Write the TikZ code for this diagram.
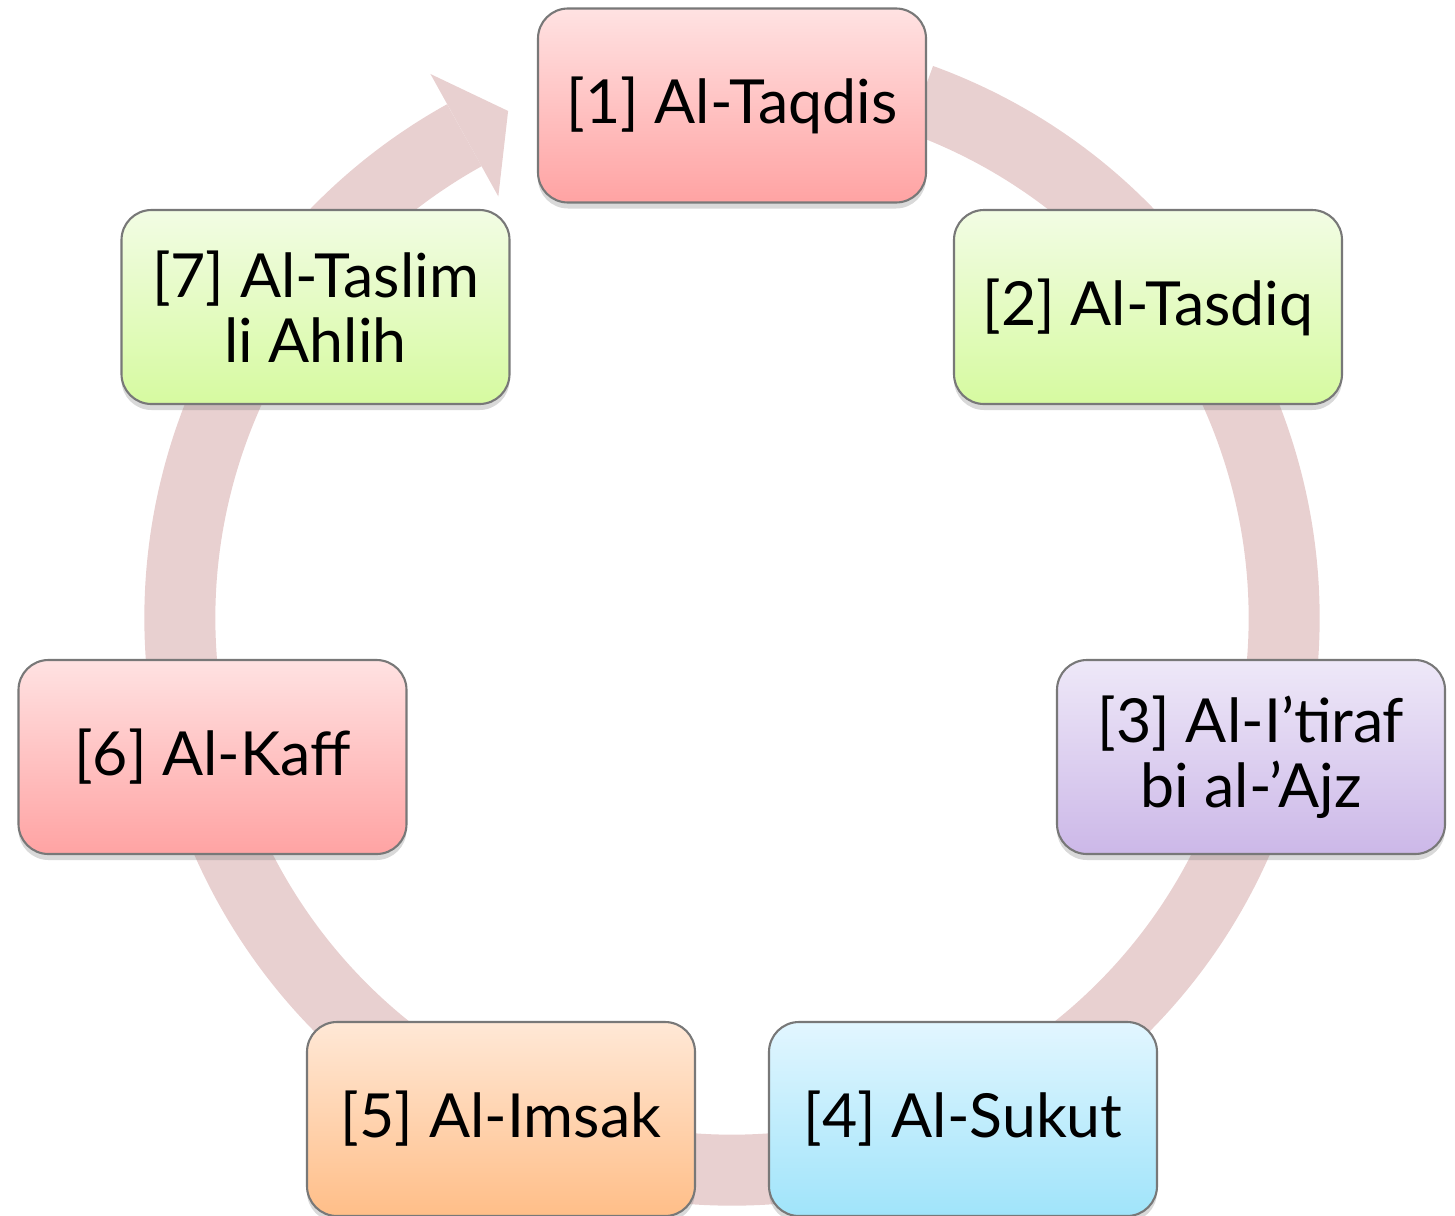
\documentclass[tikz,border=0pt]{standalone}
\usepackage{fontspec}
\setmainfont{Lato}
\usetikzlibrary{shadows,calc}

\definecolor{ringpink}{RGB}{232,208,208}
\definecolor{boxline}{RGB}{120,120,120}

\tikzset{
  stage/.style={draw=boxline, line width=0.6pt, rounded corners=0.3cm,
    minimum width=3.88cm, minimum height=1.94cm, align=center,
    font=\fontsize{17.3}{18.5}\selectfont,
    drop shadow={opacity=0.3, shadow xshift=0cm, shadow yshift=-0.06cm}},
  pinkstage/.style={stage, top color={rgb,255:red,255;green,226;blue,226}, bottom color={rgb,255:red,255;green,163;blue,163}},
  greenstage/.style={stage, top color={rgb,255:red,242;green,252;blue,228}, bottom color={rgb,255:red,214;green,250;blue,160}},
  lilacstage/.style={stage, top color={rgb,255:red,238;green,232;blue,248}, bottom color={rgb,255:red,204;green,184;blue,232}},
  cyanstage/.style={stage, top color={rgb,255:red,226;green,246;blue,255}, bottom color={rgb,255:red,160;green,228;blue,250}},
  orangestage/.style={stage, top color={rgb,255:red,255;green,232;blue,214}, bottom color={rgb,255:red,255;green,190;blue,136}},
}

\begin{document}
\begin{tikzpicture}
	  \useasboundingbox (0,0) rectangle (14.55,-12.15);   % page
	  \coordinate (c) at (7.32,-6.18);   % centre of the ring

	  % ring arrow, clockwise
	  \draw [ringpink, line width=0.71cm] ($(c)+(70:5.52)$) arc[start angle=70, end angle=-241, radius=5.52];
	  \fill [ringpink] ($(c)+(119:6.22)$) -- ($(c)+(119:5.52)+(29:0.5)$) -- ($(c)+(119:4.82)$) -- cycle;

	  % the seven stages
	  \node [pinkstage] (taqdis) at (7.32,-1.055) {[1] Al-Taqdis};
	  \node [greenstage] (tasdiq) at (11.48,-3.07) {[2] Al-Tasdiq};
	  \node [lilacstage] (itiraf) at (12.51,-7.57) {[3] Al-I’tiraf\\bi al-’Ajz};
	  \node [cyanstage] (sukut) at (9.63,-11.19) {[4] Al-Sukut};
	  \node [orangestage] (imsak) at (5.01,-11.19) {[5] Al-Imsak};
	  \node [pinkstage] (kaff) at (2.125,-7.57) {[6] Al-Kaff};
	  \node [greenstage] (taslim) at (3.155,-3.07) {[7] Al-Taslim\\li Ahlih};
	\end{tikzpicture}
\end{document}
